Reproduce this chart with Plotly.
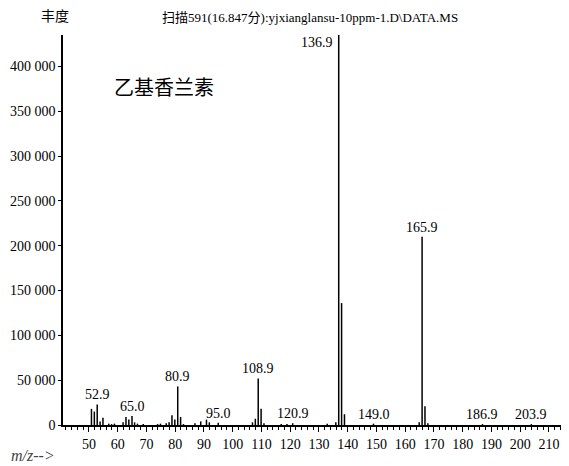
import plotly.graph_objects as go

# Mass spectrum of ethyl vanillin (scan 591)
mz = [50.9, 51.9, 52.9, 53.9, 54.9, 56.9, 57.9, 58.9, 61.9, 62.9, 63.9, 65.0, 65.9, 66.9,
      68.9, 73.9, 74.9, 76.9, 77.9, 78.9, 79.9, 80.9, 81.9, 82.9, 86.9, 88.9, 90.9, 91.9,
      95.0, 106.9, 107.9, 108.9, 109.9, 110.9, 116.9, 118.9, 120.9, 132.9, 135.9, 136.9,
      137.9, 138.9, 149.0, 164.9, 165.9, 166.9, 167.9, 186.9, 203.9]
abundance = [18000, 15000, 23000, 4000, 8000, 1500, 1000, 1500, 3000, 9000, 6000, 10000, 3000, 1500,
             1000, 1000, 1500, 2000, 3000, 11000, 6000, 43000, 9000, 1000, 2000, 4000, 6000, 3000,
             2500, 3000, 7000, 52000, 18000, 2000, 1000, 1000, 2000, 1500, 3000, 435000,
             136000, 12000, 1500, 3000, 210000, 21000, 2000, 1000, 1000]

labelled = [52.9, 65.0, 80.9, 95.0, 108.9, 120.9, 149.0, 165.9, 186.9, 203.9]

y_ticks = [0, 50000, 100000, 150000, 200000, 250000, 300000, 350000, 400000]
y_tick_text = ["0", "50 000", "100 000", "150 000", "200 000", "250 000", "300 000", "350 000", "400 000"]
x_ticks = [50, 60, 70, 80, 90, 100, 110, 120, 130, 140, 150, 160, 170, 180, 190, 200, 210]

serif = "'Liberation Serif', 'Times New Roman', 'Noto Sans CJK SC', serif"

# stick spectrum: one vertical segment per peak
xs, ys = [], []
for m, a in zip(mz, abundance):
    xs += [m, m, None]
    ys += [0, a, None]

fig = go.Figure()
fig.add_trace(go.Scatter(x=xs, y=ys, mode="lines",
                         line=dict(color="black", width=1.5),
                         hoverinfo="skip", showlegend=False))

for m, a in zip(mz, abundance):
    if m in labelled:
        fig.add_annotation(x=m, y=a, text=f"{m:.1f}", showarrow=False,
                           yanchor="bottom", yshift=0,
                           font=dict(family=serif, size=14, color="black"))

# base peak label sits left of the line
fig.add_annotation(x=136.9, y=1.005, xref="x", yref="paper", text="136.9",
                   showarrow=False, xanchor="right", yanchor="top", xshift=-4,
                   font=dict(family=serif, size=14, color="black"))

fig.add_annotation(x=-0.016, y=1.048, xref="paper", yref="paper", text="丰度",
                   showarrow=False, xanchor="center", yanchor="middle",
                   font=dict(family=serif, size=14, color="black"))
fig.add_annotation(x=0.49, y=1.046, xref="paper", yref="paper",
                   text="扫描591(16.847分):yjxianglansu-10ppm-1.D\\DATA.MS",
                   showarrow=False, xanchor="center", yanchor="middle",
                   font=dict(family=serif, size=13, color="black"))
fig.add_annotation(x=58, y=376000, text="乙基香兰素", showarrow=False,
                   xanchor="left", yanchor="middle",
                   font=dict(family=serif, size=20, color="black"))
fig.add_annotation(x=-0.107, y=-0.077, xref="paper", yref="paper", text="<i>m/z--></i>",
                   showarrow=False, xanchor="left", yanchor="middle",
                   font=dict(family=serif, size=16, color="#444"))

fig.update_xaxes(range=[41, 216.3], tickvals=x_ticks, ticks="outside", ticklen=5,
                 tickcolor="black", showline=True, linecolor="black", linewidth=1.5,
                 showgrid=False, zeroline=False, automargin=False, ticklabelstandoff=0,
                 minor=dict(dtick=2, tick0=0, ticks="outside", ticklen=3, tickcolor="black"),
                 tickfont=dict(family=serif, size=14, color="black"))
fig.update_yaxes(range=[0, 435000], tickvals=y_ticks, ticktext=y_tick_text,
                 ticks="outside", ticklen=3, tickcolor="black",
                 showline=True, linecolor="black", linewidth=1.5,
                 showgrid=False, zeroline=False, automargin=False,
                 tickfont=dict(family=serif, size=14, color="black"))

# page body adds an 8px offset, so the figure is sized to fill the rest
fig.update_layout(width=561, height=458, plot_bgcolor="white", paper_bgcolor="white",
                  margin=dict(l=55, r=2, t=27, b=41), showlegend=False)

fig.write_html("out.html")
